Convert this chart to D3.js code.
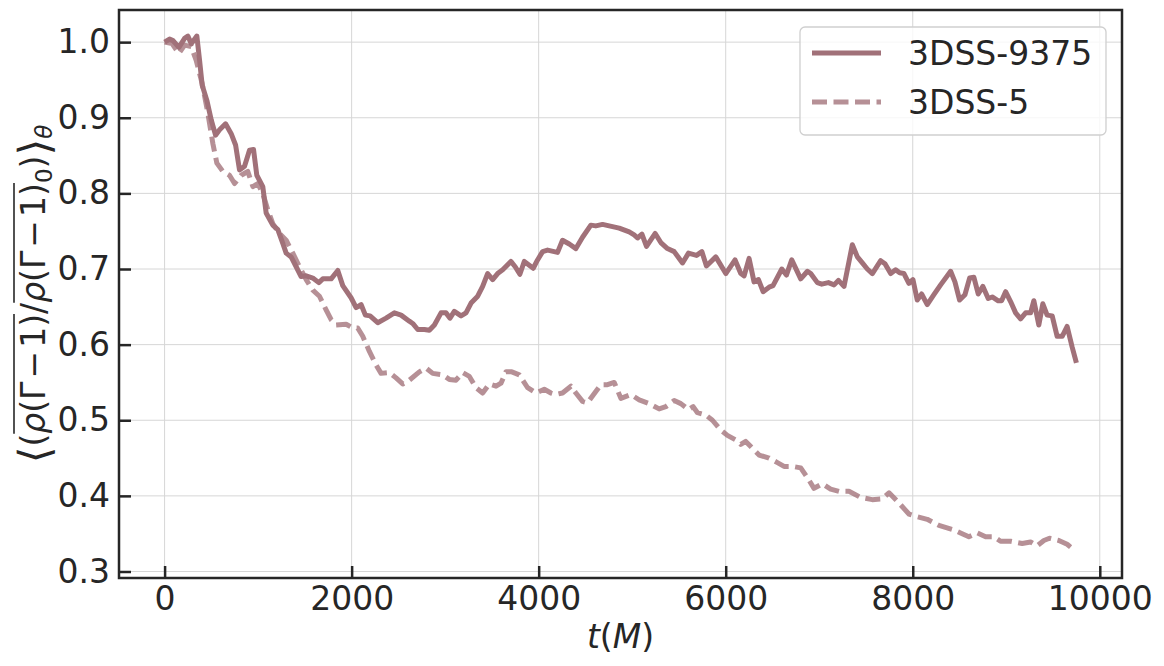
<!DOCTYPE html>
<html><head><meta charset="utf-8">
<script src="https://cdn.jsdelivr.net/npm/d3@7"></script>
<style>
body{margin:0;background:#fff;}
text{font-family:"DejaVu Sans",sans-serif;fill:#262626;}
</style></head>
<body><svg id="c" width="1164" height="666"></svg>
<script>
const xTicks=[0,2000,4000,6000,8000,10000];
const yTicks=[0.3,0.4,0.5,0.6,0.7,0.8,0.9,1.0];
const seriesNames=["3DSS-9375","3DSS-5"];
const tSolid=[0,53,90,153,214,249,285,345,374,402,452,499,545,588,652,712,759,801,855,908,951,986,1050,1086,1157,1211,1264,1300,1353,1407,1460,1514,1585,1649,1692,1781,1852,1905,1994,2048,2101,2147,2197,2279,2368,2457,2529,2617,2653,2707,2778,2831,2885,2956,3009,3052,3098,3170,3223,3277,3348,3401,3454,3508,3561,3615,3703,3749,3799,3846,3942,3988,4042,4095,4202,4255,4327,4398,4469,4558,4611,4683,4790,4861,4968,5021,5057,5104,5153,5246,5306,5377,5449,5538,5602,5688,5745,5794,5894,6001,6100,6161,6197,6250,6303,6350,6400,6464,6506,6600,6649,6706,6802,6874,6909,6980,7027,7098,7159,7205,7265,7354,7408,7461,7514,7568,7657,7703,7764,7817,7860,7906,7959,8002,8048,8095,8155,8226,8298,8405,8451,8501,8558,8608,8654,8700,8750,8807,8850,8914,8950,8993,9046,9100,9153,9207,9260,9295,9348,9391,9437,9491,9544,9598,9651,9704,9750];
const vSolid=[1.000,1.004,1.002,0.993,1.005,1.008,0.998,1.008,0.976,0.943,0.923,0.897,0.877,0.884,0.892,0.879,0.864,0.831,0.836,0.857,0.858,0.824,0.809,0.774,0.758,0.752,0.734,0.721,0.716,0.703,0.690,0.691,0.688,0.682,0.687,0.687,0.698,0.678,0.662,0.649,0.653,0.639,0.638,0.629,0.635,0.642,0.639,0.631,0.628,0.620,0.620,0.619,0.626,0.642,0.642,0.635,0.644,0.638,0.642,0.655,0.664,0.677,0.694,0.686,0.694,0.699,0.710,0.703,0.693,0.710,0.701,0.712,0.723,0.725,0.722,0.738,0.733,0.727,0.742,0.758,0.757,0.759,0.756,0.754,0.749,0.745,0.741,0.746,0.730,0.747,0.735,0.727,0.723,0.708,0.721,0.718,0.723,0.704,0.716,0.694,0.712,0.694,0.691,0.714,0.683,0.686,0.670,0.676,0.678,0.700,0.692,0.712,0.687,0.697,0.694,0.682,0.680,0.682,0.679,0.685,0.677,0.732,0.716,0.708,0.700,0.694,0.711,0.707,0.694,0.699,0.695,0.694,0.681,0.686,0.659,0.667,0.653,0.666,0.679,0.697,0.683,0.659,0.666,0.688,0.689,0.667,0.677,0.661,0.663,0.658,0.658,0.670,0.657,0.642,0.634,0.642,0.642,0.658,0.626,0.654,0.639,0.638,0.611,0.611,0.624,0.597,0.576];
const tDashed=[0,80,153,214,285,338,402,463,516,559,623,694,748,819,890,944,997,1050,1104,1157,1228,1300,1371,1442,1514,1585,1656,1727,1781,1834,1941,2013,2065,2119,2190,2262,2315,2404,2475,2546,2617,2724,2796,2867,2974,3045,3116,3187,3259,3330,3401,3472,3544,3597,3650,3713,3793,3882,3971,4060,4131,4183,4255,4345,4398,4469,4522,4611,4665,4736,4808,4879,4986,5075,5182,5288,5360,5449,5520,5602,5652,5698,5787,5858,5947,6018,6108,6161,6214,6285,6357,6464,6553,6624,6713,6802,6874,6944,7033,7122,7211,7318,7442,7567,7674,7746,7835,7959,8031,8155,8280,8440,8511,8600,8689,8779,8868,8939,9046,9170,9260,9330,9402,9462,9562,9651,9740];
const vDashed=[1.000,0.998,0.985,0.996,0.994,0.976,0.945,0.906,0.866,0.840,0.829,0.824,0.813,0.824,0.829,0.809,0.813,0.800,0.778,0.760,0.747,0.738,0.721,0.703,0.686,0.672,0.664,0.646,0.633,0.626,0.627,0.622,0.622,0.611,0.591,0.573,0.562,0.563,0.556,0.548,0.553,0.564,0.569,0.562,0.560,0.554,0.553,0.563,0.558,0.543,0.536,0.548,0.545,0.549,0.564,0.564,0.560,0.543,0.536,0.541,0.536,0.534,0.536,0.545,0.536,0.525,0.523,0.538,0.547,0.547,0.550,0.529,0.534,0.527,0.522,0.515,0.518,0.526,0.522,0.514,0.518,0.510,0.507,0.500,0.487,0.480,0.474,0.468,0.472,0.463,0.454,0.450,0.444,0.439,0.439,0.437,0.424,0.410,0.416,0.409,0.406,0.406,0.398,0.395,0.396,0.404,0.393,0.376,0.373,0.369,0.361,0.355,0.351,0.346,0.351,0.346,0.346,0.340,0.340,0.337,0.339,0.334,0.341,0.344,0.341,0.336,0.327];

const svg=d3.select("#c");
const L=119,R=1122,T=10,B=578;
const x=d3.scaleLinear().domain([-487.5,10237.5]).range([L,R]);
const y=d3.scaleLinear().domain([0.2914,1.0425]).range([B,T]);
const col="#a17179";
const fs=33;
const lw=5;

// grid
const g=svg.append("g");
g.selectAll(".gx").data(xTicks).enter().append("line")
 .attr("x1",d=>x(d)).attr("x2",d=>x(d)).attr("y1",T).attr("y2",B)
 .attr("stroke","#d6d6d6").attr("stroke-width",1);
g.selectAll(".gy").data(yTicks).enter().append("line")
 .attr("y1",d=>y(d)).attr("y2",d=>y(d)).attr("x1",L).attr("x2",R)
 .attr("stroke","#d6d6d6").attr("stroke-width",1);

// lines
const line=d3.line().x(d=>x(d[0])).y(d=>y(d[1]));
const dS=tSolid.map((t,i)=>[t,vSolid[i]]);
const dD=tDashed.map((t,i)=>[t,vDashed[i]]);
svg.append("path").attr("d",line(dD)).attr("fill","none").attr("stroke",col)
 .attr("stroke-opacity",0.78).attr("stroke-width",lw).attr("stroke-dasharray","15,6.5").attr("stroke-linejoin","round");
svg.append("path").attr("d",line(dS)).attr("fill","none").attr("stroke",col)
 .attr("stroke-width",lw).attr("stroke-linejoin","round");

// axes via d3
const xa=d3.axisBottom(x).tickValues(xTicks).tickSizeInner(-12).tickSizeOuter(0).tickPadding(9).tickFormat(d3.format("d"));
const ya=d3.axisLeft(y).tickValues(yTicks).tickSizeInner(-12).tickSizeOuter(0).tickPadding(9).tickFormat(d3.format(".1f"));
const gx=svg.append("g").attr("transform",`translate(0,${B})`).call(xa);
const gy=svg.append("g").attr("transform",`translate(${L},0)`).call(ya);
[gx,gy].forEach(a=>{
 a.select(".domain").remove();
 a.selectAll(".tick line").attr("stroke","#262626").attr("stroke-width",2.5);
 a.selectAll(".tick text").attr("font-size",fs).attr("font-family","DejaVu Sans").attr("fill","#262626");
});
gx.selectAll(".tick text").attr("dy","0.71em");

// frame
svg.append("rect").attr("x",L).attr("y",T).attr("width",R-L).attr("height",B-T)
 .attr("fill","none").attr("stroke","#262626").attr("stroke-width",2.5);

// x label
const xl=svg.append("text").attr("x",(L+R)/2).attr("y",648).attr("text-anchor","middle").attr("font-size",fs);
xl.append("tspan").attr("font-style","italic").text("t");
xl.append("tspan").text("(");
xl.append("tspan").attr("font-style","italic").text("M");
xl.append("tspan").text(")");

// y label: build horizontally then rotate
const yg=svg.append("g");
const inner=yg.append("g");
const pieces=[
 {t:"⟨",big:1.3},{t:"("},
 {t:"ρ",it:1,ol:1},{t:"(Γ",ol:1},{t:"−",ol:1,pad:3},{t:"1)",ol:1},
 {t:"/"},
 {t:"ρ",it:1,ol:2},{t:"(Γ",ol:2},{t:"−",ol:2,pad:3},{t:"1)",ol:2},{t:"0",sub:1},
 {t:")"},{t:"⟩",big:1.3},{t:"θ",it:1,sub:1}
];
let cx=0;const olr={};
pieces.forEach(p=>{
 cx+=(p.pad||0);
 const te=inner.append("text").attr("x",cx).attr("y",p.sub?7:(p.big?4:0))
  .attr("font-size",p.sub?fs*0.7:fs*(p.big||1)).attr("font-style",p.it?"italic":"normal").text(p.t);
 const w=te.node().getComputedTextLength();
 if(p.ol){olr[p.ol]=olr[p.ol]||[cx,cx];olr[p.ol][1]=cx+w;}
 cx+=w+(p.pad||0);
});
Object.values(olr).forEach(r=>{
 inner.append("line").attr("x1",r[0]).attr("x2",r[1]).attr("y1",-31).attr("y2",-31)
  .attr("stroke","#262626").attr("stroke-width",1.6);
});
inner.attr("transform",`translate(${-cx/2},0)`);
yg.attr("transform",`translate(45,${(T+B)/2}) rotate(-90)`);

// legend
const lg=svg.append("g");
lg.append("rect").attr("x",800).attr("y",27).attr("width",306).attr("height",108).attr("rx",5)
 .attr("fill","#fff").attr("fill-opacity",0.8).attr("stroke","#cfcfcf").attr("stroke-width",1.3);
const rows=[{y:53,dash:null,op:1},{y:102,dash:"15,6.5",op:0.78}];
rows.forEach((r,i)=>{
 lg.append("line").attr("x1",812).attr("x2",881).attr("y1",r.y).attr("y2",r.y)
  .attr("stroke",col).attr("stroke-width",lw).attr("stroke-opacity",r.op)
  .attr("stroke-dasharray",r.dash);
 lg.append("text").attr("x",908).attr("y",r.y+12).attr("font-size",fs).text(seriesNames[i]);
});
</script></body></html>
